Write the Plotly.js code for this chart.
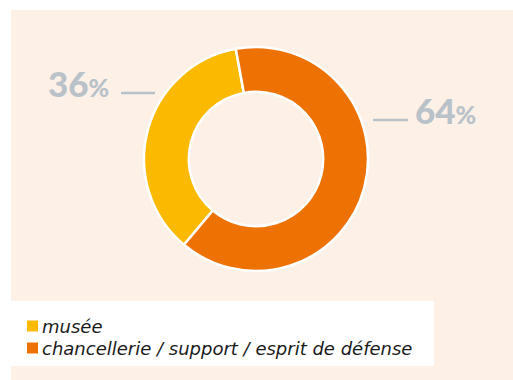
<!DOCTYPE html>
<html><head><meta charset="utf-8">
<script src="https://cdn.plot.ly/plotly-3.0.1.min.js"></script>
<style>html,body{margin:0;padding:0;background:#fff;}#chart{width:513px;height:380px;}</style>
</head><body><div id="chart"></div>
<script>
const categories = ["musée", "chancellerie / support / esprit de défense"];
const values = [36, 64];
const colors = ["#FBB900", "#EE7203"];
const pctLabels = ["36", "64"];

const W = 513, H = 380;
const px = v => v / W, py = v => 1 - v / H;

const trace = {
  type: "pie",
  labels: categories,
  values: values,
  sort: false,
  direction: "counterclockwise",
  rotation: -140,
  hole: 0.6,
  textinfo: "none",
  hoverinfo: "none",
  showlegend: false,
  marker: {colors: colors, line: {color: "#ffffff", width: 2.5}},
  domain: {x: [px(256-112), px(256+112)], y: [py(159+112), py(159-112)]}
};

const pctFont = {family: "Lato, 'Open Sans', sans-serif", size: 35, color: "#B9C2C8", weight: 900};
const shapes = [
  {type: "rect", xref: "paper", yref: "paper", x0: px(11), x1: px(513), y0: py(380), y1: py(10),
   fillcolor: "#FDF0E7", line: {width: 0}, layer: "below"},
  {type: "rect", xref: "paper", yref: "paper", x0: px(11), x1: px(434), y0: py(366), y1: py(301),
   fillcolor: "#ffffff", line: {width: 0}, layer: "below"},
  {type: "line", xref: "paper", yref: "paper", x0: px(121), x1: px(155), y0: py(93), y1: py(93),
   line: {color: "#B9C2C8", width: 2.5}},
  {type: "line", xref: "paper", yref: "paper", x0: px(373), x1: px(408), y0: py(120), y1: py(120),
   line: {color: "#B9C2C8", width: 2.5}}
];
const annotations = [
  {xref: "paper", yref: "paper", x: px(111), y: py(83), xanchor: "right", yanchor: "middle",
   text: pctLabels[0] + "<span style='font-size:25px'>%</span>",
   showarrow: false, font: pctFont},
  {xref: "paper", yref: "paper", x: px(413), y: py(110), xanchor: "left", yanchor: "middle",
   text: pctLabels[1] + "<span style='font-size:25px'>%</span>",
   showarrow: false, font: pctFont}
];
// legend rows
categories.forEach((c, i) => {
  const cy = 326 + i * 22;
  shapes.push({type: "rect", xref: "paper", yref: "paper", x0: px(27), x1: px(38),
    y0: py(cy + 5.5), y1: py(cy - 5.5), fillcolor: colors[i], line: {width: 0}});
  annotations.push({xref: "paper", yref: "paper", x: px(41), y: py(cy), xanchor: "left", yanchor: "middle",
    text: c, showarrow: false, borderpad: 0,
    font: {family: "'DejaVu Sans', sans-serif", size: 18, color: "#1a1a1a", style: "italic", weight: 200}});
});

const layout = {
  width: W, height: H,
  margin: {l: 0, r: 0, t: 0, b: 0},
  paper_bgcolor: "#ffffff",
  plot_bgcolor: "#ffffff",
  showlegend: false,
  shapes: shapes,
  annotations: annotations
};

Plotly.newPlot("chart", [trace], layout, {displayModeBar: false, staticPlot: true});
</script>
</body></html>
